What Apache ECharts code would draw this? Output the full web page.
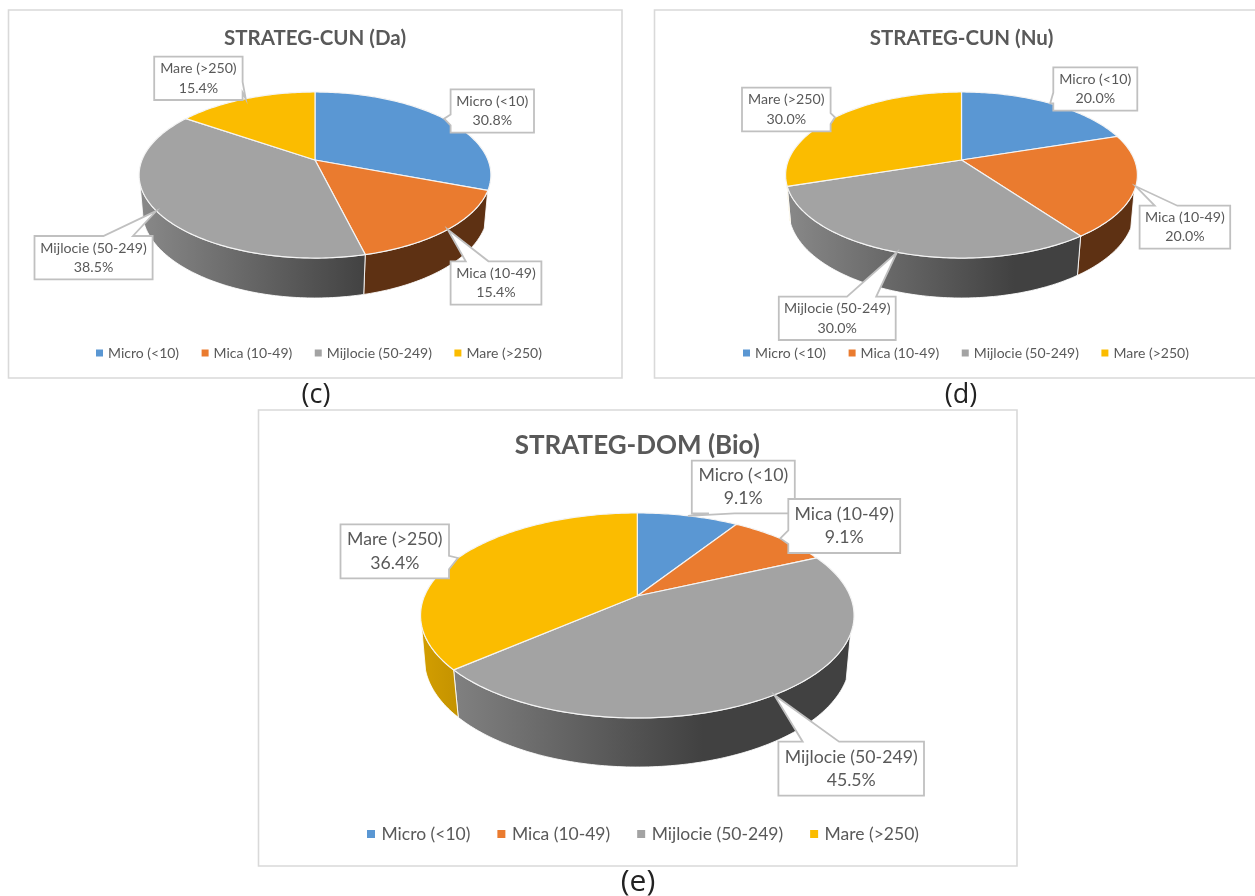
<!DOCTYPE html>
<html><head><meta charset="utf-8">
<style>html,body{margin:0;padding:0;background:#fff}#c{width:1255px;height:896px}</style>
<script src="https://cdn.jsdelivr.net/npm/echarts@6/dist/echarts.min.js"></script></head>
<body><div id="c"></div>
<script>
const categories = ['Micro (<10)', 'Mica (10-49)', 'Mijlocie (50-249)', 'Mare (>250)'];
const sharesDa  = [30.8, 15.4, 38.5, 15.4];
const sharesNu  = [20.0, 20.0, 30.0, 30.0];
const sharesBio = [9.1, 9.1, 45.5, 36.4];
const titles = ['STRATEG-CUN (Da)', 'STRATEG-CUN (Nu)', 'STRATEG-DOM (Bio)'];
const captions = ['(c)', '(d)', '(e)'];

const colors = ['#5A97D3', '#EA7B2F', '#A3A3A3', '#FBBC00'];
const TEXT = '#595959', EDGE = '#c0c0c0', FRAME = '#d9d9d9', FONT = 'Lato, "Open Sans", sans-serif';
const WALL_FROM = 111, WALL_TO = 254; // part of the turn where the side wall shows

// Layout only: pie projection, frames, callout boxes [x0, y0, x1, y1]
const panels = [
  { shares: sharesDa, cx: 315, cy: 160, A: 173, B: 80.3, k: 0.181, depth: 35.6, sA: 0.985, sB: 1.061, kb: 0.168,
    frame: [8.5, 10, 622, 378], titleX: 315, titleY: 38, capX: 316, capY: 395, font: 14.2, line: 19.3, titleSize: 20.5, capSize: 27,
    legend: { left: 96, top: 346, gap: 22.5, size: 14, mark: 7, pad: 0 },
    boxes: [[450.6, 89.3, 534, 132.7], [450.6, 261.3, 541.4, 304.7], [34.5, 236, 152.6, 279.3], [154.2, 56.7, 242.6, 100]] },
  { shares: sharesNu, cx: 961.5, cy: 160, A: 173, B: 80.3, k: 0.181, depth: 35.6, sA: 0.985, sB: 1.061, kb: 0.168,
    frame: [654.5, 10, 1262, 378], titleX: 961.5, titleY: 38, capX: 961, capY: 395, font: 14.2, line: 19.3, titleSize: 20.5, capSize: 27,
    legend: { left: 743, top: 346, gap: 22.5, size: 14, mark: 7, pad: 0 },
    boxes: [[1053.3, 67.3, 1137.3, 110.7], [1139.6, 205.7, 1230.2, 248.7], [778.8, 296.7, 895.7, 340], [742, 87.7, 830.6, 131.3]] },
  { shares: sharesBio, cx: 637.3, cy: 596, A: 212.8, B: 98.8, k: 0.19, depth: 43.7, sA: 0.985, sB: 1.062, kb: 0.176,
    frame: [258.5, 410, 1017, 866], titleX: 637.3, titleY: 446, capX: 638, capY: 882, font: 17.7, line: 23.5, titleSize: 26, capSize: 30,
    legend: { left: 367, top: 825, gap: 27, size: 17.5, mark: 8, pad: 1.5 },
    boxes: [[691.8, 460.7, 794.8, 513.3], [788.3, 499, 900.2, 553], [778.4, 741.7, 924, 795.7], [340.5, 524.3, 449, 578.3]] }
];

function rimPoint(p, deg) {
  const t = deg * Math.PI / 180, w = 1 + p.k * Math.cos(t);
  return [p.cx + p.A * Math.sin(t) / w, p.cy - p.B * Math.cos(t) / w];
}
function basePoint(p, deg) {
  const t = deg * Math.PI / 180, w = 1 + p.kb * Math.cos(t);
  return [p.cx + p.sA * p.A * Math.sin(t) / w, p.cy + p.depth - p.sB * p.B * Math.cos(t) / w];
}
function shade(hex, f) {
  const n = parseInt(hex.slice(1), 16);
  return 'rgb(' + [(n >> 16) & 255, (n >> 8) & 255, n & 255].map(c => Math.round(c * f)).join(',') + ')';
}
function calloutPoints(b, tip) {
  const [x0, y0, x1, y1] = b, w = x1 - x0, h = y1 - y0;
  const dx = tip[0] - (x0 + x1) / 2, dy = tip[1] - (y0 + y1) / 2;
  const vertical = Math.abs(dy) > Math.abs(dx * h / w);
  const xa = x0 + w * (dx > 0 ? 7 : 2) / 12, xb = x0 + w * (dx > 0 ? 10 : 5) / 12;
  const ya = y0 + h * (dy > 0 ? 7 : 2) / 12, yb = y0 + h * (dy > 0 ? 10 : 5) / 12;
  const pts = [[x0, y0]];
  if (vertical && dy < 0) pts.push([xa, y0], tip, [xb, y0]);
  pts.push([x1, y0]);
  if (!vertical && dx > 0) pts.push([x1, ya], tip, [x1, yb]);
  pts.push([x1, y1]);
  if (vertical && dy > 0) pts.push([xb, y1], tip, [xa, y1]);
  pts.push([x0, y1]);
  if (!vertical && dx < 0) pts.push([x0, yb], tip, [x0, ya]);
  return pts;
}

function sliceRender(panel, idx) {
  return function (params, api) {
    const total = panel.shares.reduce((a, b) => a + b, 0);
    const before = panel.shares.slice(0, idx).reduce((a, b) => a + b, 0);
    const value = api.value(0);
    const a0 = before / total * 360, a1 = (before + value) / total * 360;
    const rim = [];
    const steps = Math.max(2, Math.ceil(a1 - a0));
    for (let i = 0; i <= steps; i++) rim.push(rimPoint(panel, a0 + (a1 - a0) * i / steps));
    const children = [];
    const lo = Math.max(a0, WALL_FROM), hi = Math.min(a1, WALL_TO);
    if (hi > lo) {
      const wallTop = [], wallBottom = [], n = Math.max(2, Math.ceil(hi - lo));
      for (let i = 0; i <= n; i++) {
        const d = lo + (hi - lo) * i / n;
        wallTop.push(rimPoint(panel, d));
        wallBottom.push(basePoint(panel, d));
      }
      const left = panel.cx - panel.A * 1.02, span = panel.A * 2.04, base = colors[idx];
      children.push({
        type: 'polygon', z2: 10,
        shape: { points: wallTop.concat(wallBottom.reverse()) },
        style: {
          fill: new echarts.graphic.LinearGradient(left, 0, left + span, 0, [
            { offset: 0, color: shade(base, 0.84) },
            { offset: 0.65, color: shade(base, 0.4) },
            { offset: 1, color: shade(base, 0.4) }
          ], true),
          stroke: 'rgba(255,255,255,0.85)', lineWidth: 1
        }
      });
    }
    children.push({
      type: 'polygon', z2: 20,
      shape: { points: [[panel.cx, panel.cy]].concat(rim) },
      style: { fill: colors[idx], stroke: '#f4f4f4', lineWidth: 1.2 }
    });
    const tip = rimPoint(panel, (a0 + a1) / 2);
    const b = panel.boxes[idx];
    children.push({
      type: 'polygon', z2: 30 + idx * 2,
      shape: { points: calloutPoints(b, tip) },
      style: { fill: '#fff', stroke: EDGE, lineWidth: 1.8, lineJoin: 'miter' }
    });
    children.push({
      type: 'text', z2: 31 + idx * 2,
      style: {
        text: categories[idx] + '\n' + value.toFixed(1) + '%',
        x: (b[0] + b[2]) / 2, y: (b[1] + b[3]) / 2,
        fill: TEXT, font: panel.font + 'px ' + FONT, lineHeight: panel.line,
        textAlign: 'center', textVerticalAlign: 'middle'
      }
    });
    return { type: 'group', children };
  };
}

const series = [];
panels.forEach(panel => {
  categories.forEach((name, i) => {
    series.push({
      type: 'custom', name, coordinateSystem: 'none', silent: true,
      itemStyle: { color: colors[i] },
      data: [[panel.shares[i]]],
      renderItem: sliceRender(panel, i)
    });
  });
});

const titleOpts = [];
panels.forEach((p, i) => {
  titleOpts.push({ text: titles[i], left: p.titleX, top: p.titleY, textAlign: 'center', textVerticalAlign: 'middle', padding: 0,
    textStyle: { color: TEXT, fontSize: p.titleSize, fontWeight: 'bold', fontFamily: FONT } });
  titleOpts.push({ text: captions[i], left: p.capX, top: p.capY, textAlign: 'center', textVerticalAlign: 'middle', padding: 0,
    textStyle: { color: '#222', fontSize: p.capSize, fontWeight: 'normal', fontFamily: '"Open Sans", sans-serif' } });
});

const chart = echarts.init(document.getElementById('c'), null, { renderer: 'canvas' });
chart.setOption({
  animation: false,
  backgroundColor: '#fff',
  title: titleOpts,
  legend: panels.map(p => ({
    data: categories, left: p.legend.left, top: p.legend.top, padding: 0,
    itemGap: p.legend.gap, itemWidth: p.legend.mark, itemHeight: p.legend.mark, icon: 'rect', selectedMode: false,
    textStyle: { color: TEXT, fontSize: p.legend.size, fontFamily: FONT, padding: [0, 0, 0, p.legend.pad] }
  })),
  graphic: panels.map(p => ({
    type: 'rect', silent: true, z: 0,
    shape: { x: p.frame[0], y: p.frame[1], width: p.frame[2] - p.frame[0], height: p.frame[3] - p.frame[1] },
    style: { fill: '#fff', stroke: FRAME, lineWidth: 1.6 }
  })),
  series
});
</script></body></html>
